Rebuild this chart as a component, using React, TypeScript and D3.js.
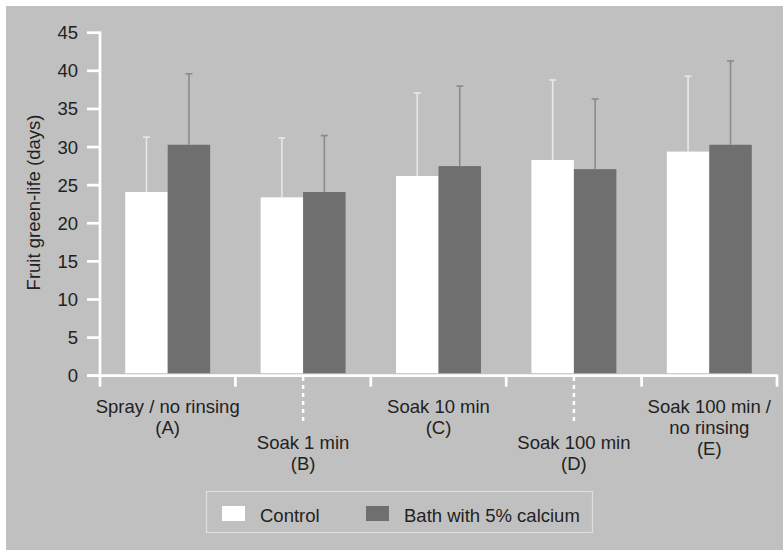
import { useMemo } from 'react';
import * as d3 from 'd3';

const WIDTH = 783;
const HEIGHT = 550;
const MARGIN = { top: 32.7, right: 6, bottom: 174.3, left: 100 };

const categories = ['A', 'B', 'C', 'D', 'E'];
const categoryLabels = [
  ['Spray / no rinsing', '(A)'],
  ['Soak 1 min', '(B)'],
  ['Soak 10 min', '(C)'],
  ['Soak 100 min', '(D)'],
  ['Soak 100 min /', 'no rinsing', '(E)'],
];
// labels B and D sit lower, joined to the axis by a dashed line
const lowered = [false, true, false, true, false];

const series = ['Control', 'Bath with 5% calcium'];
const controlMean = [24.1, 23.4, 26.2, 28.3, 29.4];
const controlSd = [7.2, 7.8, 10.9, 10.5, 9.9];
const calciumMean = [30.3, 24.1, 27.5, 27.1, 30.3];
const calciumSd = [9.3, 7.4, 10.5, 9.2, 11.0];

const yTicks = [0, 5, 10, 15, 20, 25, 30, 35, 40, 45];

const BG = '#c0c0c0';
const TEXT = '#222';
const barFill = ['#ffffff', '#6f6f6f'];
const errColor = ['#e8e8e8', '#8a8a8a'];
const FONT = '"Liberation Sans", Arial, Helvetica, sans-serif';

export default function App() {
  const boundsW = WIDTH - MARGIN.left - MARGIN.right;
  const boundsH = HEIGHT - MARGIN.top - MARGIN.bottom;

  const x = useMemo(
    () => d3.scaleBand<string>().domain(categories).range([0, boundsW]).padding(0),
    [boundsW]
  );
  const xInner = useMemo(
    () =>
      d3
        .scaleBand<string>()
        .domain(series)
        .range([0, x.bandwidth()])
        .paddingInner(0)
        .paddingOuter(0.594),
    [x]
  );
  const y = useMemo(() => d3.scaleLinear().domain([0, 45]).range([boundsH, 0]), [boundsH]);

  const means = [controlMean, calciumMean];
  const sds = [controlSd, calciumSd];
  const boundaries = [...categories.map((c) => x(c)!), boundsW];

  return (
    <>
      <style>{`body{margin:0}`}</style>
      <svg width={WIDTH} height={HEIGHT} style={{ display: 'block', fontFamily: FONT }}>
        <rect x={0} y={0} width={WIDTH} height={HEIGHT} fill="#fff" />
        <rect x={6} y={6} width={WIDTH - 6} height={HEIGHT - 6} fill={BG} />

        {/* y axis title */}
        <text
          transform={`translate(40, 202.5) rotate(-90)`}
          textAnchor="middle"
          fontSize={18.5}
          fill={TEXT}
        >
          Fruit green-life (days)
        </text>

        <g transform={`translate(${MARGIN.left}, ${MARGIN.top})`}>
          {/* bars */}
          {categories.map((c, i) =>
            series.map((s, j) => {
              const bx = x(c)! + xInner(s)!;
              const top = y(means[j][i]);
              return (
                <rect
                  key={`${c}-${s}`}
                  x={bx}
                  y={top}
                  width={xInner.bandwidth()}
                  height={y(0) - 2.5 - top}
                  fill={barFill[j]}
                />
              );
            })
          )}

          {/* error bars */}
          {categories.map((c, i) =>
            series.map((s, j) => {
              const cx = x(c)! + xInner(s)! + xInner.bandwidth() / 2;
              const y1 = y(means[j][i]);
              const y2 = y(means[j][i] + sds[j][i]);
              return (
                <g key={`err-${c}-${s}`} stroke={errColor[j]} strokeWidth={1.6}>
                  <line x1={cx} x2={cx} y1={y1} y2={y2} />
                  <line x1={cx - 3.5} x2={cx + 3.5} y1={y2} y2={y2} />
                </g>
              );
            })
          )}

          {/* y axis */}
          <line x1={0} x2={0} y1={y(45) - 1.3} y2={y(0) + 1.3} stroke="#fff" strokeWidth={2.7} />
          {yTicks.map((t) => (
            <g key={t} transform={`translate(0, ${y(t)})`}>
              <line x1={-13} x2={0} stroke="#fff" strokeWidth={2.7} />
              <text x={-22} dy="0.35em" textAnchor="end" fontSize={18.5} fill={TEXT}>
                {t}
              </text>
            </g>
          ))}

          {/* x axis */}
          <line x1={-13} x2={boundsW + 1.3} y1={y(0)} y2={y(0)} stroke="#fff" strokeWidth={2.7} />
          {boundaries.map((bx, i) => (
            <line
              key={`xt-${i}`}
              x1={bx}
              x2={bx}
              y1={y(0)}
              y2={y(0) + 11}
              stroke="#fff"
              strokeWidth={2.7}
            />
          ))}

          {/* category labels */}
          {categories.map((c, i) => {
            const cx = x(c)! + x.bandwidth() / 2;
            const base = lowered[i] ? 416 : 380.3;
            return (
              <g key={`lbl-${c}`}>
                {lowered[i] && (
                  <line
                    x1={cx}
                    x2={cx}
                    y1={y(0) + 1.3}
                    y2={392}
                    stroke="#fff"
                    strokeWidth={2.5}
                    strokeDasharray="4,4"
                  />
                )}
                <text textAnchor="middle" fontSize={18.5} fill={TEXT}>
                  {categoryLabels[i].map((line, k) => (
                    <tspan key={k} x={cx} y={base + k * 21}>
                      {line}
                    </tspan>
                  ))}
                </text>
              </g>
            );
          })}
        </g>

        {/* legend */}
        <g>
          <rect x={206.5} y={491.5} width={386} height={41} fill="none" stroke="#dedede" strokeWidth={1.2} />
          {series.map((s, j) => {
            const lx = j === 0 ? 222 : 366;
            return (
              <g key={`leg-${s}`}>
                <rect x={lx} y={506} width={23} height={15} fill={barFill[j]} />
                <text x={lx + 38} y={521.5} fontSize={18.5} fill={TEXT}>
                  {s}
                </text>
              </g>
            );
          })}
        </g>
      </svg>
    </>
  );
}
